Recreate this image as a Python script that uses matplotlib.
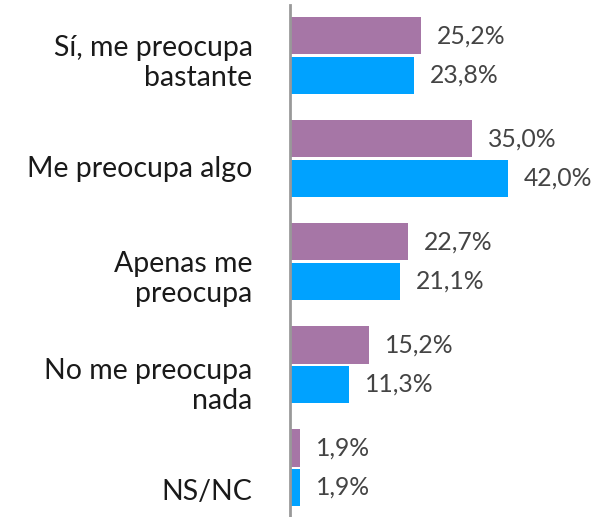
import matplotlib.pyplot as plt
import numpy as np

categories = ['Sí, me preocupa\nbastante', 'Me preocupa algo', 'Apenas me\npreocupa',
              'No me preocupa\nnada', 'NS/NC']
serie_a = [25.2, 35.0, 22.7, 15.2, 1.9]   # morado
serie_b = [23.8, 42.0, 21.1, 11.3, 1.9]   # azul

col_a = '#A676A6'
col_b = '#00A2FF'
txt = '#444444'

plt.rcParams['font.family'] = ['Lato', 'DejaVu Sans']

fig = plt.figure(figsize=(6, 5.17), dpi=100)
ax = fig.add_axes([290 / 600, 0, 310 / 600, 512 / 517])

y = np.arange(len(categories))
h = 0.36
off = 0.19

ax.barh(y - off, serie_a, height=h, color=col_a)
ax.barh(y + off, serie_b, height=h, color=col_b)

for yi, a, b in zip(y, serie_a, serie_b):
    ax.annotate(f'{a:.1f}%'.replace('.', ','), (a, yi - off), xytext=(16, 0),
                textcoords='offset pixels', va='center', ha='left', fontsize=17.8, color=txt)
    ax.annotate(f'{b:.1f}%'.replace('.', ','), (b, yi + off), xytext=(16, 0),
                textcoords='offset pixels', va='center', ha='left', fontsize=17.8, color=txt)

ax.set_xlim(0, 59.7)
ax.set_ylim(4.48, -0.49)
# las etiquetas van un poco más espaciadas que los grupos de barras
ax.set_yticks(y * 1.045 + 0.034)
ax.set_yticklabels(categories, fontsize=20.5, color='#1a1a1a', ha='right', linespacing=1.18)
ax.tick_params(axis='y', length=0, pad=27)
ax.set_xticks([])

for s in ['top', 'right', 'bottom']:
    ax.spines[s].set_visible(False)
ax.spines['left'].set_color('#999999')
ax.spines['left'].set_linewidth(2)

fig.savefig('out.png', dpi=100)
